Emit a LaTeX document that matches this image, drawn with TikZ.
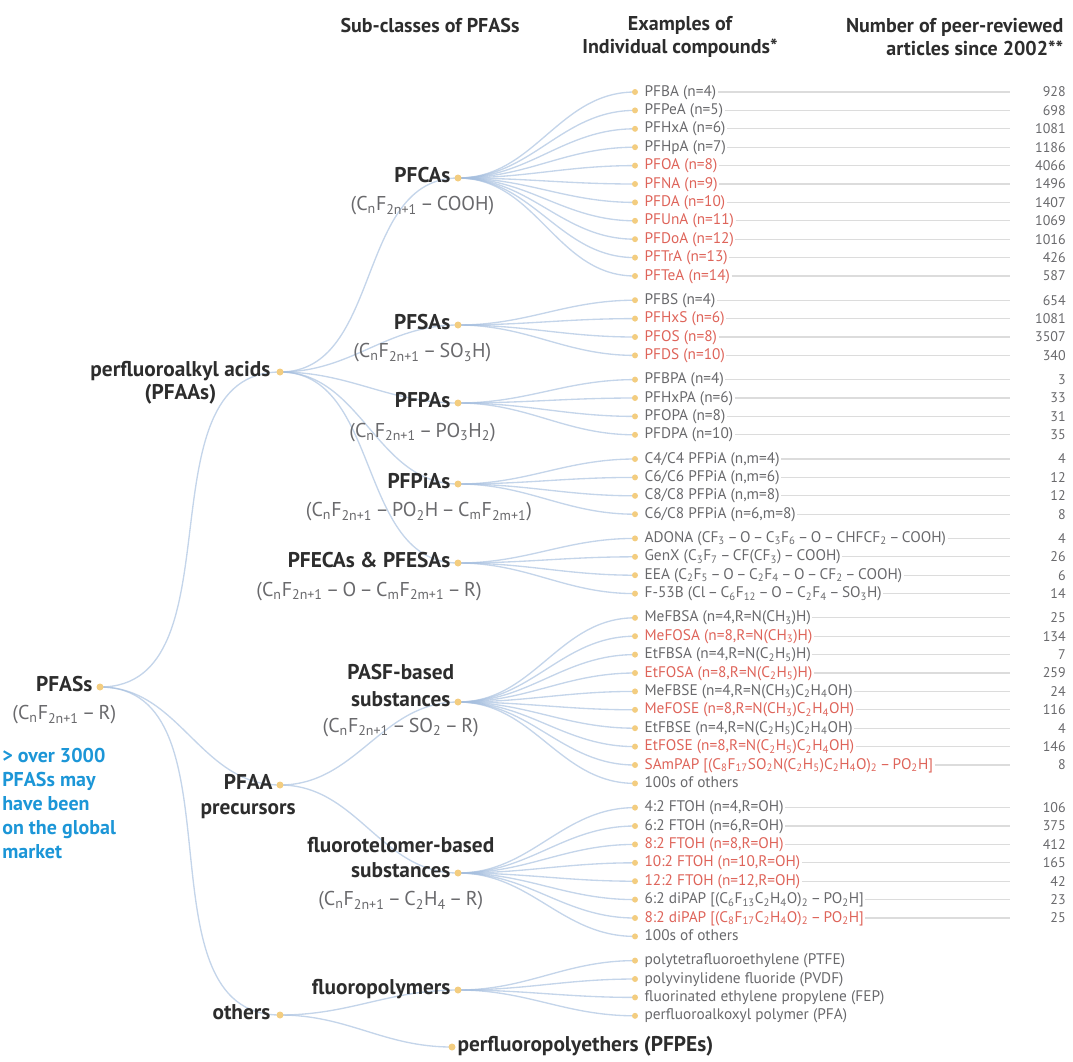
\documentclass[tikz,border=0pt]{standalone}
\usepackage{fontspec}
\setmainfont{PT Sans}
\usetikzlibrary{positioning}

\definecolor{branchblue}{RGB}{165,190,222}
\definecolor{rulegray}{RGB}{220,220,220}
\definecolor{dotyellow}{RGB}{243,205,128}
\definecolor{pfgray}{RGB}{105,105,108}
\definecolor{pfred}{RGB}{222,100,90}
\definecolor{labeldark}{RGB}{45,45,45}
\definecolor{noteblue}{RGB}{28,150,215}

\newcommand{\dn}[1]{\textsubscript{#1}}
\newcommand{\mn}{\,–\,}

\tikzset{
  branch/.style={draw=branchblue, line width=1pt, opacity=0.65},
  classlabel/.style={font=\fontsize{16}{18}\selectfont\bfseries, text=labeldark, inner sep=1pt,
    text height=1.7ex, text depth=0.4ex},
  formula/.style={font=\fontsize{15}{17}\selectfont, text=pfgray, inner sep=1pt},
  cmpd/.style={font=\fontsize{11.5}{13}\selectfont, inner sep=1pt, text height=1.6ex, text depth=0.4ex},
  numtext/.style={font=\fontsize{10.5}{12}\selectfont, text=pfgray, anchor=east, inner sep=0pt},
  headtext/.style={font=\fontsize{15}{17.5}\selectfont\bfseries, text=labeldark},
  dotc/.style={fill=dotyellow}
}

\begin{document}
\begin{tikzpicture}[x=0.75pt, y=-0.75pt]
    \useasboundingbox (0,0) rectangle (1073,1061);

    % one block of compounds: parent, first row, rows
    \def\rowgroup#1#2#3{%
      \foreach \txt/\num/\clr [count=\k from 0] in {#3} {
        \coordinate (#1-\k) at (635, #2+18.4*\k);
        \coordinate (#1-\k-e) at (1010, #2+18.4*\k);
        \draw[branch] (#1) to[out=0, in=180] (#1-\k);
        \node[cmpd, text=\clr, right=6pt of #1-\k] (#1-\k-t) {\txt};
        \draw[rulegray, line width=0.9pt] (#1-\k-t) -- (#1-\k-e);
        \node[numtext] (#1-\k-n) at (1066, #2+18.4*\k) {\num};
        \fill[dotc] (#1-\k) circle (3);
      }
    }

    % headers
    \node[headtext] (h1) at (430, 25) {Sub-classes of PFASs};
    \node[headtext, align=center] (h2) at (680, 37) {Examples of\\Individual compounds*};
    \node[headtext, align=right, anchor=east] (h3) at (1068, 37) {Number of peer-reviewed\\articles since 2002**};

    % tree points
    \coordinate (pfass) at (100, 687);
    \coordinate (pfaas) at (280, 372);
    \coordinate (precursors) at (280, 785);
    \coordinate (others) at (280, 1015);
    \coordinate (pfcas) at (458, 178);
    \coordinate (pfsas) at (458, 325);
    \coordinate (pfpas) at (458, 403);
    \coordinate (pfpias) at (458, 484);
    \coordinate (pfecas) at (458, 563);
    \coordinate (pasf) at (458, 702);
    \coordinate (ftel) at (458, 873);
    \coordinate (fpoly) at (458, 990);
    \coordinate (pfpes) at (452, 1047);

    \foreach \child in {pfaas, precursors, others}
        \draw[branch] (pfass) to[out=0, in=180] (\child);
    \foreach \child in {pfcas, pfsas, pfpas, pfpias, pfecas}
        \draw[branch] (pfaas) to[out=0, in=180] (\child);
    \foreach \child in {pasf, ftel}
        \draw[branch] (precursors) to[out=0, in=180] (\child);
    \foreach \child in {fpoly, pfpes}
        \draw[branch] (others) to[out=0, in=180] (\child);

    % compounds
    \rowgroup{pfcas}{92}{
      {PFBA (n=4)}/928/pfgray, {PFPeA (n=5)}/698/pfgray, {PFHxA (n=6)}/1081/pfgray,
      {PFHpA (n=7)}/1186/pfgray, {PFOA (n=8)}/4066/pfred, {PFNA (n=9)}/1496/pfred,
      {PFDA (n=10)}/1407/pfred, {PFUnA (n=11)}/1069/pfred, {PFDoA (n=12)}/1016/pfred,
      {PFTrA (n=13)}/426/pfred, {PFTeA (n=14)}/587/pfred}
    \rowgroup{pfsas}{300.2}{
      {PFBS (n=4)}/654/pfgray, {PFHxS (n=6)}/1081/pfred,
      {PFOS (n=8)}/3507/pfred, {PFDS (n=10)}/340/pfred}
    \rowgroup{pfpas}{379.6}{
      {PFBPA (n=4)}/3/pfgray, {PFHxPA (n=6)}/33/pfgray,
      {PFOPA (n=8)}/31/pfgray, {PFDPA (n=10)}/35/pfgray}
    \rowgroup{pfpias}{459}{
      {C4/C4 PFPiA (n,m=4)}/4/pfgray, {C6/C6 PFPiA (n,m=6)}/12/pfgray,
      {C8/C8 PFPiA (n,m=8)}/12/pfgray, {C6/C8 PFPiA (n=6,m=8)}/8/pfgray}
    \rowgroup{pfecas}{538.4}{
      {ADONA (CF\dn{3}\mn O\mn C\dn{3}F\dn{6}\mn O\mn CHFCF\dn{2}\mn COOH)}/4/pfgray,
      {GenX (C\dn{3}F\dn{7}\mn CF(CF\dn{3})\mn COOH)}/26/pfgray,
      {EEA (C\dn{2}F\dn{5}\mn O\mn C\dn{2}F\dn{4}\mn O\mn CF\dn{2}\mn COOH)}/6/pfgray,
      {F-53B (Cl\mn C\dn{6}F\dn{12}\mn O\mn C\dn{2}F\dn{4}\mn SO\dn{3}H)}/14/pfgray}
    \rowgroup{pasf}{617.8}{
      {MeFBSA (n=4,R=N(CH\dn{3})H)}/25/pfgray,
      {MeFOSA (n=8,R=N(CH\dn{3})H)}/134/pfred,
      {EtFBSA (n=4,R=N(C\dn{2}H\dn{5})H)}/7/pfgray,
      {EtFOSA (n=8,R=N(C\dn{2}H\dn{5})H)}/259/pfred,
      {MeFBSE (n=4,R=N(CH\dn{3})C\dn{2}H\dn{4}OH)}/24/pfgray,
      {MeFOSE (n=8,R=N(CH\dn{3})C\dn{2}H\dn{4}OH)}/116/pfred,
      {EtFBSE (n=4,R=N(C\dn{2}H\dn{5})C\dn{2}H\dn{4}OH)}/4/pfgray,
      {EtFOSE (n=8,R=N(C\dn{2}H\dn{5})C\dn{2}H\dn{4}OH)}/146/pfred,
      {SAmPAP [(C\dn{8}F\dn{17}SO\dn{2}N(C\dn{2}H\dn{5})C\dn{2}H\dn{4}O)\dn{2}\mn PO\dn{2}H]}/8/pfred}
    \rowgroup{ftel}{807.6}{
      {4:2 FTOH (n=4,R=OH)}/106/pfgray, {6:2 FTOH (n=6,R=OH)}/375/pfgray,
      {8:2 FTOH (n=8,R=OH)}/412/pfred, {10:2 FTOH (n=10,R=OH)}/165/pfred,
      {12:2 FTOH (n=12,R=OH)}/42/pfred,
      {6:2 diPAP [(C\dn{6}F\dn{13}C\dn{2}H\dn{4}O)\dn{2}\mn PO\dn{2}H]}/23/pfgray,
      {8:2 diPAP [(C\dn{8}F\dn{17}C\dn{2}H\dn{4}O)\dn{2}\mn PO\dn{2}H]}/25/pfred}

    % 100s of others
    \coordinate (pasf-x) at (635, 783.4);
    \coordinate (ftel-x) at (635, 936.4);
    \foreach \grp in {pasf, ftel} {
        \draw[branch] (\grp) to[out=0, in=180] (\grp-x);
        \node[cmpd, text=pfgray, right=6pt of \grp-x] (\grp-x-t) {100s of others};
        \fill[dotc] (\grp-x) circle (3);
    }

    % fluoropolymers, no counts
    \foreach \txt [count=\k from 0] in {polytetrafluoroethylene (PTFE), polyvinylidene fluoride (PVDF),
        fluorinated ethylene propylene (FEP), perfluoroalkoxyl polymer (PFA)} {
        \coordinate (fpoly-\k) at (635, 960.6+18.4*\k);
        \draw[branch] (fpoly) to[out=0, in=180] (fpoly-\k);
        \node[cmpd, text=pfgray, right=6pt of fpoly-\k] (fpoly-\k-t) {\txt};
        \fill[dotc] (fpoly-\k) circle (3);
    }

    % class labels
    \node[classlabel, anchor=east] (pfass-l) at (94, 687) {PFASs};
    \node[formula] (pfass-f) at ([yshift=-21pt]pfass-l) {(C\dn{n}F\dn{2n+1}\mn R)};
    \node[font=\fontsize{15}{18}\selectfont\bfseries, text=noteblue, align=left, anchor=north west,
        inner sep=0pt] (note) at (2, 748) {> over 3000\\PFASs may\\have been\\on the global\\market};

    \node[classlabel, anchor=east] (pfaas-l) at (272, 372) {perfluoroalkyl acids};
    \node[classlabel] (pfaas-s) at ([yshift=-17pt]pfaas-l) {(PFAAs)};
    \node[classlabel, anchor=east] (precursors-l) at (274, 785) {PFAA};
    \node[classlabel] (precursors-s) at ([yshift=-18.5pt]precursors-l) {precursors};
    \node[classlabel, anchor=east] (others-l) at (272, 1015) {others};

    \node[classlabel, anchor=east] (pfcas-l) at (452, 178) {PFCAs};
    \node[formula] (pfcas-f) at ([yshift=-21pt]pfcas-l) {(C\dn{n}F\dn{2n+1}\mn COOH)};
    \node[classlabel, anchor=east] (pfsas-l) at (452, 325) {PFSAs};
    \node[formula] (pfsas-f) at ([yshift=-21pt]pfsas-l) {(C\dn{n}F\dn{2n+1}\mn SO\dn{3}H)};
    \node[classlabel, anchor=east] (pfpas-l) at (452, 403) {PFPAs};
    \node[formula] (pfpas-f) at ([yshift=-22pt]pfpas-l) {(C\dn{n}F\dn{2n+1}\mn PO\dn{3}H\dn{2})};
    \node[classlabel, anchor=east] (pfpias-l) at (452, 484) {PFPiAs};
    \node[formula] (pfpias-f) at ([yshift=-21pt]pfpias-l) {(C\dn{n}F\dn{2n+1}\mn PO\dn{2}H\mn C\dn{m}F\dn{2m+1})};
    \node[classlabel, anchor=east] (pfecas-l) at (452, 563) {PFECAs \& PFESAs};
    \node[formula] (pfecas-f) at ([yshift=-21.5pt]pfecas-l) {(C\dn{n}F\dn{2n+1}\mn O\mn C\dn{m}F\dn{2m+1}\mn R)};

    \node[classlabel, anchor=east] (pasf-l) at (452, 702) {substances};
    \node[classlabel] (pasf-u) at ([yshift=20pt]pasf-l) {PASF-based};
    \node[formula] (pasf-f) at ([yshift=-19pt]pasf-l) {(C\dn{n}F\dn{2n+1}\mn SO\dn{2}\mn R)};
    \node[classlabel, anchor=east] (ftel-l) at (452, 873) {substances};
    \node[classlabel] (ftel-u) at ([yshift=19pt]ftel-l) {fluorotelomer-based};
    \node[formula] (ftel-f) at ([yshift=-21pt]ftel-l) {(C\dn{n}F\dn{2n+1}\mn C\dn{2}H\dn{4}\mn R)};
    \node[classlabel, anchor=east] (fpoly-l) at (452, 990) {fluoropolymers};
    \node[classlabel, anchor=west] (pfpes-l) at (456, 1047) {perfluoropolyethers (PFPEs)};

    \foreach \point in {pfass, pfaas, precursors, others, pfcas, pfsas, pfpas, pfpias,
        pfecas, pasf, ftel, fpoly, pfpes}
        \fill[dotc] (\point) circle (3.5);
\end{tikzpicture}
\end{document}
